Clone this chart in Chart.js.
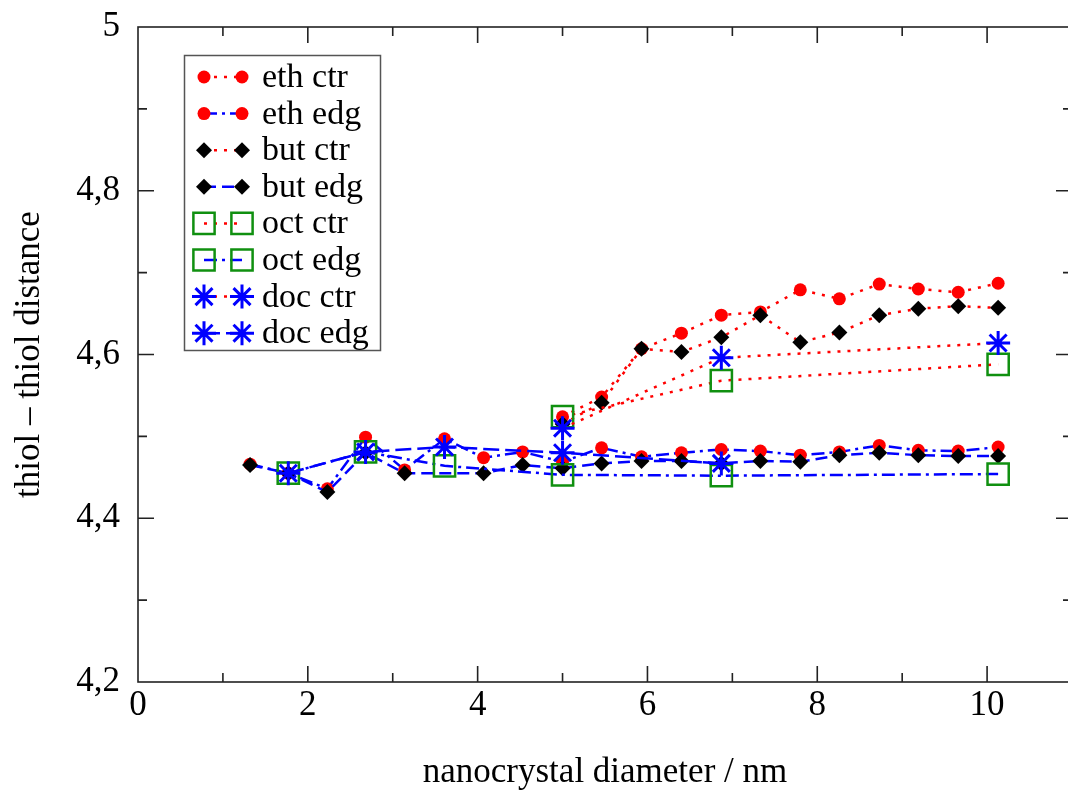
<!DOCTYPE html>
<html>
<head>
<meta charset="utf-8">
<script src="https://cdn.jsdelivr.net/npm/chart.js@4/dist/chart.umd.min.js"></script>
<style>
html, body { margin: 0; padding: 0; overflow: hidden; background: #fff; }
#wrap { position: relative; width: 1100px; height: 794px; }
</style>
</head>
<body>
<div id="wrap"><canvas id="thiolChart"></canvas></div>
<script>
// データ (nm, 距離)
const ethSizes = [1.32, 1.77, 2.23, 2.68, 3.14, 3.61, 4.07, 4.53, 5.0, 5.46, 5.93, 6.4, 6.87, 7.33, 7.8, 8.26, 8.73, 9.19, 9.66, 10.13];
const ethEdg = [4.466, 4.455, 4.436, 4.499, 4.459, 4.497, 4.474, 4.481, 4.469, 4.486, 4.475, 4.480, 4.484, 4.482, 4.477, 4.481, 4.489, 4.483, 4.482, 4.487];
const butSizes = [1.32, 1.77, 2.23, 2.68, 3.14, 4.07, 4.53, 5.0, 5.46, 5.93, 6.4, 6.87, 7.33, 7.8, 8.26, 8.73, 9.19, 9.66, 10.13];
const butEdg = [4.465, 4.455, 4.432, 4.480, 4.455, 4.455, 4.465, 4.461, 4.467, 4.470, 4.470, 4.467, 4.470, 4.469, 4.477, 4.480, 4.477, 4.476, 4.476];
const ctrSizes = [5.0, 5.46, 5.93, 6.4, 6.87, 7.33, 7.8, 8.26, 8.73, 9.19, 9.66, 10.13];
const ethCtr = [4.524, 4.548, 4.607, 4.626, 4.648, 4.652, 4.679, 4.668, 4.686, 4.680, 4.676, 4.687];
const butCtr = [4.515, 4.541, 4.607, 4.603, 4.621, 4.648, 4.615, 4.627, 4.648, 4.656, 4.659, 4.657];
const octSizes = [1.77, 2.68, 3.61, 5.0, 6.87, 10.13];
const docSizes = [1.77, 2.68, 3.61, 5.0, 6.87];
const bigCtrSizes = [5.0, 6.87, 10.13];
const octEdg = [4.455, 4.481, 4.464, 4.453, 4.452, 4.454];
const octCtr = [4.524, 4.568, 4.588];
const docEdg = [4.455, 4.481, 4.487, 4.480, 4.467];
const docCtr = [4.510, 4.596, 4.614];

const xTicks = [0, 2, 4, 6, 8, 10];
const yTicks = ['4,2', '4,4', '4,6', '4,8', '5'];

const FONT = 'Liberation Serif';
const RED = '#ff0000';
const BLUE = '#0000ff';
const GREEN = '#109010';

function pts(xs, ys) {
    return xs.map((x, i) => ({ x: x, y: ys[i] }));
}

// マーカーの設定
const markers = {
    eth: { pointStyle: 'circle', pointRadius: 6.5, pointBackgroundColor: RED, pointBorderColor: RED, pointBorderWidth: 0 },
    but: { pointStyle: 'rectRot', pointRadius: 8, pointBackgroundColor: '#000', pointBorderColor: '#000', pointBorderWidth: 0 },
    oct: { pointStyle: 'rect', pointRadius: 15, pointBackgroundColor: 'rgba(0,0,0,0)', pointBorderColor: GREEN, pointBorderWidth: 2.5 },
    doc: { pointStyle: 'star', pointRadius: 12, pointBackgroundColor: BLUE, pointBorderColor: BLUE, pointBorderWidth: 3 }
};
const ctrLine = { borderColor: RED, borderWidth: 2.5, borderDash: [3, 7] };
const edgLine = { borderColor: BLUE, borderWidth: 2.5, borderDash: [13, 5, 3, 5] };
const order = { eth: 4, but: 3, oct: 2, doc: 1 };

function ds(label, kind, line, data) {
    return Object.assign({ label: label, data: data, order: order[kind], tension: 0, fill: false,
        pointHoverRadius: markers[kind].pointRadius }, markers[kind], line);
}

const datasets = [
    ds('eth ctr', 'eth', ctrLine, pts(ctrSizes, ethCtr)),
    ds('eth edg', 'eth', edgLine, pts(ethSizes, ethEdg)),
    ds('but ctr', 'but', ctrLine, pts(ctrSizes, butCtr)),
    ds('but edg', 'but', Object.assign({}, edgLine, { borderDash: [12, 6] }), pts(butSizes, butEdg)),
    ds('oct ctr', 'oct', ctrLine, pts(bigCtrSizes, octCtr)),
    ds('oct edg', 'oct', edgLine, pts(octSizes, octEdg)),
    ds('doc ctr', 'doc', ctrLine, pts(bigCtrSizes, docCtr)),
    ds('doc edg', 'doc', Object.assign({}, edgLine, { borderDash: [16, 6] }), pts(docSizes, docEdg))
];

// 枠と内向きの目盛り
const framePlugin = {
    id: 'frame',
    afterDraw(chart) {
        const ctx = chart.ctx;
        const a = chart.chartArea;
        const sx = chart.scales.x, sy = chart.scales.y;
        ctx.save();
        ctx.strokeStyle = '#222';
        ctx.lineWidth = 1.6;
        ctx.strokeRect(a.left, a.top, a.right - a.left, a.bottom - a.top);
        ctx.beginPath();
        for (let v = 1; v <= 10; v++) {
            const px = sx.getPixelForValue(v);
            const len = v % 2 === 0 ? 16 : 9;
            ctx.moveTo(px, a.bottom); ctx.lineTo(px, a.bottom - len);
            ctx.moveTo(px, a.top); ctx.lineTo(px, a.top + len);
        }
        for (let k = 43; k <= 49; k++) {
            const py = sy.getPixelForValue(k / 10);
            const len = k % 2 === 0 ? 16 : 9;
            ctx.moveTo(a.left, py); ctx.lineTo(a.left + len, py);
            ctx.moveTo(a.right, py); ctx.lineTo(a.right - len, py);
        }
        ctx.stroke();
        ctx.restore();
    }
};

// 凡例 (マーカー・線・マーカー)
const legendPlugin = {
    id: 'boxLegend',
    afterDraw(chart) {
        const ctx = chart.ctx;
        ctx.save();
        ctx.fillStyle = '#fff';
        ctx.fillRect(184, 55, 197, 296);
        ctx.strokeStyle = '#555';
        ctx.lineWidth = 1.5;
        ctx.strokeRect(184.5, 55.5, 196, 295);
        chart.data.datasets.forEach((d, i) => {
            const y = 77 + i * 36.6;
            ctx.save();
            ctx.strokeStyle = d.borderColor;
            ctx.lineWidth = d.borderWidth;
            ctx.setLineDash(d.borderDash);
            ctx.beginPath();
            ctx.moveTo(204, y); ctx.lineTo(242, y);
            ctx.stroke();
            ctx.restore();
            [204, 242].forEach(x => {
                ctx.save();
                ctx.fillStyle = d.pointBackgroundColor;
                ctx.strokeStyle = d.pointBorderColor;
                ctx.lineWidth = d.pointBorderWidth;
                Chart.helpers.drawPoint(ctx, { pointStyle: d.pointStyle, radius: d.pointRadius, rotation: 0, borderWidth: d.pointBorderWidth }, x, y);
                ctx.restore();
            });
            ctx.fillStyle = '#000';
            ctx.font = '34px "' + FONT + '"';
            ctx.textBaseline = 'middle';
            ctx.textAlign = 'left';
            ctx.fillText(d.label, 262, y + 1);
        });
        ctx.restore();
    }
};

const thiolChart = new Chart(document.getElementById('thiolChart'), {
    type: 'line',
    data: { datasets: datasets },
    options: {
        responsive: true,
        maintainAspectRatio: false,
        animation: false,
        layout: { padding: { top: 27, right: 28, left: 0, bottom: 0 } },
        plugins: { legend: { display: false }, tooltip: { enabled: false } },
        scales: {
            x: {
                type: 'linear', min: 0, max: 11,
                afterFit(s) { s.height = 112; s.paddingLeft = 0; s.paddingRight = 0; },
                grid: { display: false, drawTicks: false },
                border: { display: false },
                ticks: {
                    stepSize: 1, autoSkip: false, maxRotation: 0, padding: 6,
                    color: '#000', font: { family: FONT, size: 35, lineHeight: 1 },
                    callback: v => xTicks.includes(v) ? String(v) : ''
                },
                title: { display: true, text: 'nanocrystal diameter / nm', color: '#000',
                    font: { family: FONT, size: 35 }, padding: { top: 0, bottom: 0 } }
            },
            y: {
                min: 4.2, max: 5,
                afterFit(s) { s.width = 138; s.paddingTop = 0; s.paddingBottom = 0; },
                grid: { display: false, drawTicks: false },
                border: { display: false },
                ticks: {
                    stepSize: 0.1, autoSkip: false, padding: 18,
                    color: '#000', font: { family: FONT, size: 35, lineHeight: 1 },
                    callback: v => {
                        const k = Math.round(v * 10);
                        return k % 2 === 0 ? yTicks[(k - 42) / 2] : '';
                    }
                },
                title: { display: true, text: 'thiol – thiol distance', color: '#000',
                    font: { family: FONT, size: 35 }, padding: { top: 9, bottom: 0 } }
            }
        }
    },
    plugins: [framePlugin, legendPlugin]
});
</script>
</body>
</html>
